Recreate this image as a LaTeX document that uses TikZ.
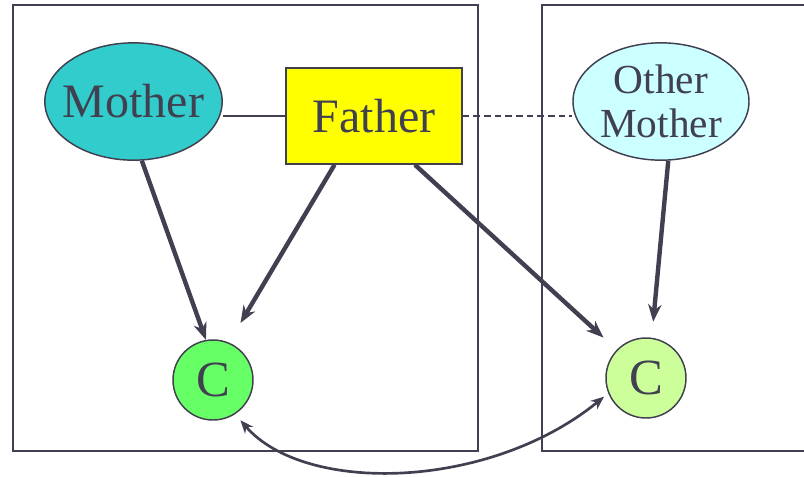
\documentclass[tikz,border=0pt]{standalone}
\usepackage{fontspec}
\setmainfont{Liberation Serif}
\usetikzlibrary{arrows.meta, shapes.geometric}
\definecolor{inkgrey}{RGB}{64,64,80}
\definecolor{mothercyan}{RGB}{51,204,204}
\definecolor{fatheryellow}{RGB}{255,255,0}
\definecolor{othercyan}{RGB}{204,255,255}
\definecolor{childgreen}{RGB}{102,255,102}
\definecolor{childlime}{RGB}{204,255,153}
\tikzset{
  x=0.75pt, y=-0.75pt, % one unit is one pixel, y runs downwards
  parent/.style={draw=inkgrey, line width=1.1pt, text=inkgrey,
    inner sep=0pt}, % mother, father and other mother
  kid/.style={circle, draw=inkgrey, line width=1.1pt, text=inkgrey,
    minimum size=60pt, inner sep=0pt,
    font=\fontsize{38}{40}\selectfont}, % the two children
  link/.style={-{Stealth[length=13pt,width=10pt]}, line width=3.3pt,
    draw=inkgrey}, % parent to child
  panel/.style={draw=inkgrey, line width=1.5pt},
}

\begin{document}
\begin{tikzpicture}
  \useasboundingbox (0,0) rectangle (804,476);

  % the two families
  \draw[panel] (13,5) rectangle (478,451);
  \draw[panel] (805,5) -- (542,5) -- (542,451) -- (805,451);

  \node[parent, ellipse, fill=mothercyan, inner xsep=-6pt,
    minimum width=133pt, minimum height=88pt,
    font=\fontsize{36}{40}\selectfont]
    (mother) at (133.5,101.5) {Mother};
  \node[parent, rectangle, fill=fatheryellow, minimum width=132pt,
    minimum height=72pt, font=\fontsize{36}{40}\selectfont]
    (father) at (374,116) {Father};
  \node[parent, ellipse, fill=othercyan, minimum width=132pt,
    minimum height=88pt, align=center, font=\fontsize{31}{33}\selectfont]
    (othermother) at (661,101.5) {Other\\Mother};

  \node[kid, fill=childgreen] (childleft) at (213,380) {C};
  \node[kid, fill=childlime] (childright) at (646,378) {C};

  \draw[inkgrey, line width=1.1pt] (mother.east |- father.west) -- (father.west);
  \draw[inkgrey, line width=1.1pt, dash pattern=on 5pt off 3pt]
    (father.east) -- (othermother.west |- father.east);

  \draw[link] (mother.-82) -- (childleft.100);
  \draw[link, shorten >=17pt] (father.-129) -- (childleft.67);
  \draw[link, shorten >=13.5pt] (father.-50) -- (childright.136);
  \draw[link, shorten >=12pt] (othermother.-83) -- (childright.82);

  \draw[inkgrey, line width=2pt, {Stealth[length=10pt,width=8pt]}-{Stealth[length=10pt,width=8pt]},
    shorten <=6pt, shorten >=4pt]
    (childleft.-57) .. controls (305,495) and (490,490) .. (childright.202);
\end{tikzpicture}
\end{document}
